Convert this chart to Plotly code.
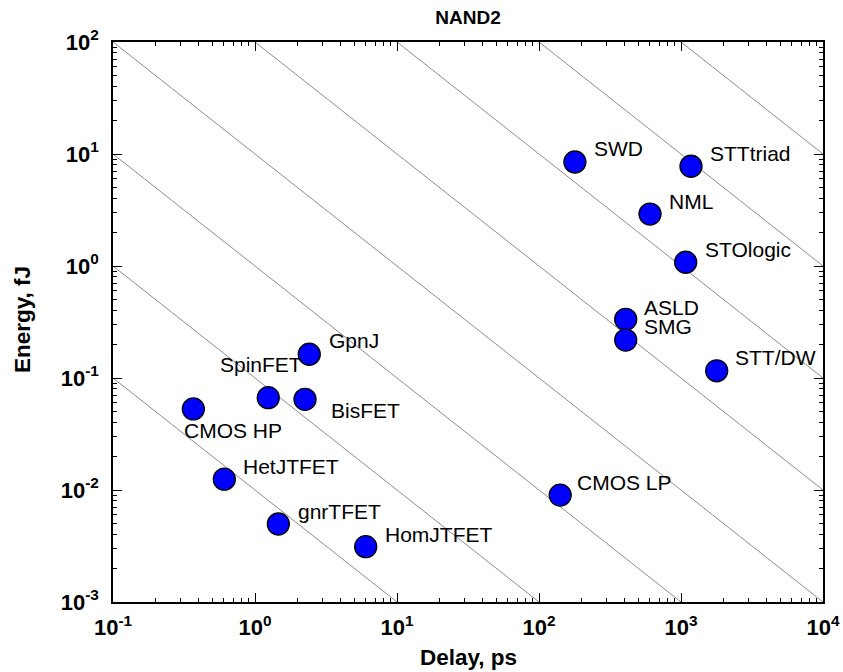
import numpy as np
import plotly.graph_objects as go

# NAND2 benchmark: energy vs. delay for beyond-CMOS device proposals
devices = ["SWD", "STTtriad", "NML", "STOlogic", "ASLD", "SMG", "STT/DW",
           "CMOS LP", "GpnJ", "SpinFET", "BisFET", "CMOS HP", "HetJTFET",
           "gnrTFET", "HomJTFET"]
delay_ps = [179, 1176, 605, 1079, 408, 408, 1784,
            141, 2.41, 1.24, 2.25, 0.368, 0.608,
            1.46, 6.02]
energy_fj = [8.48, 7.77, 2.91, 1.08, 0.334, 0.218, 0.116,
             0.0090, 0.163, 0.0667, 0.0645, 0.0529, 0.0125,
             0.00497, 0.00312]

# constant energy-delay product guide lines (fJ*ps)
edp_levels = [1e-2, 1e-1, 1, 10, 1e2, 1e3, 1e4, 1e5]

x_tick_exps = [-1, 0, 1, 2, 3, 4]
y_tick_exps = [-3, -2, -1, 0, 1, 2]

# label placement relative to each marker, in pixels (dx right, dy down)
label_offsets = {
    "SWD": (17, -14), "STTtriad": (17, -12.5), "NML": (17, -13),
    "STOlogic": (17.5, -13), "ASLD": (16, -12), "SMG": (16, -13.5),
    "STT/DW": (16, -13), "CMOS LP": (15, -12.5), "GpnJ": (17.5, -13.5),
    "SpinFET": (-50, -33.5), "BisFET": (24, 11.5), "CMOS HP": (-11.5, 22),
    "HetJTFET": (17, -13), "gnrTFET": (17.5, -13), "HomJTFET": (17.5, -12.5),
}

FONT = "Liberation Sans, Arial, sans-serif"

fig = go.Figure()

x_lo, x_hi = 10.0 ** x_tick_exps[0], 10.0 ** x_tick_exps[-1]
d_line = np.array([x_lo, x_hi])
for p in edp_levels:
    fig.add_trace(go.Scatter(
        x=d_line, y=p / d_line, mode="lines",
        line=dict(color="#808080", width=0.9),
        hoverinfo="skip", showlegend=False,
    ))

fig.add_trace(go.Scatter(
    x=delay_ps, y=energy_fj, mode="markers",
    marker=dict(size=22, color="#0000ff", line=dict(color="black", width=1.3)),
    text=devices, showlegend=False,
))

for name, d, e in zip(devices, delay_ps, energy_fj):
    dx, dy = label_offsets[name]
    fig.add_annotation(
        x=np.log10(d), y=np.log10(e), text=name, showarrow=False,
        xanchor="left", yanchor="middle", xshift=dx, yshift=-dy,
        font=dict(family=FONT, size=21, color="black"),
    )


def minor_vals(exps):
    return [k * 10.0 ** n for n in exps[:-1] for k in range(2, 10)]


axis_common = dict(
    type="log", showgrid=False, zeroline=False,
    showline=True, linecolor="black", linewidth=1.5, mirror="ticks",
    ticks="inside", ticklen=9, tickwidth=1.2, tickcolor="black",
    tickfont=dict(family=FONT, size=22, color="black", weight="bold"),
    automargin=False,
)

fig.update_xaxes(
    range=[x_tick_exps[0], x_tick_exps[-1]],
    tickvals=[10.0 ** n for n in x_tick_exps],
    ticktext=[f"10<sup>{n}</sup>" for n in x_tick_exps],
    minor=dict(tickvals=minor_vals(x_tick_exps), ticks="inside", ticklen=4.5,
               tickcolor="black", tickwidth=1, showgrid=False),
    ticklabelstandoff=5,
    **axis_common,
)
fig.update_yaxes(
    range=[y_tick_exps[0], y_tick_exps[-1]],
    tickvals=[10.0 ** n for n in y_tick_exps],
    ticktext=[f"10<sup>{n}</sup>" for n in y_tick_exps],
    minor=dict(tickvals=minor_vals(y_tick_exps), ticks="inside", ticklen=4.5,
               tickcolor="black", tickwidth=1, showgrid=False),
    ticklabelstandoff=8,
    **axis_common,
)

W, H = 843, 672
L, R, T, B = 113, 20, 42, 70
plot_h = H - T - B
plot_w = W - L - R

fig.add_annotation(
    text="Delay, ps", xref="paper", yref="paper", x=0.5,
    y=-(657 - (H - B)) / plot_h, showarrow=False,
    xanchor="center", yanchor="middle",
    font=dict(family=FONT, size=22.5, color="black", weight="bold"),
)
fig.add_annotation(
    text="Energy, fJ", xref="paper", yref="paper", x=(22 - L) / plot_w,
    y=(602 - 320) / plot_h, showarrow=False, textangle=-90,
    xanchor="center", yanchor="middle",
    font=dict(family=FONT, size=22.5, color="black", weight="bold"),
)

fig.update_layout(
    template="none",
    width=W, height=H,
    margin=dict(l=L, r=R, t=T, b=B, pad=0),
    paper_bgcolor="white", plot_bgcolor="white",
    title=dict(text="NAND2", x=(L + plot_w / 2) / W, xanchor="center",
               yref="container", y=1 - 17 / H, yanchor="middle",
               font=dict(family=FONT, size=19, color="black", weight="bold")),
    showlegend=False,
)

fig.write_html("out.html")
